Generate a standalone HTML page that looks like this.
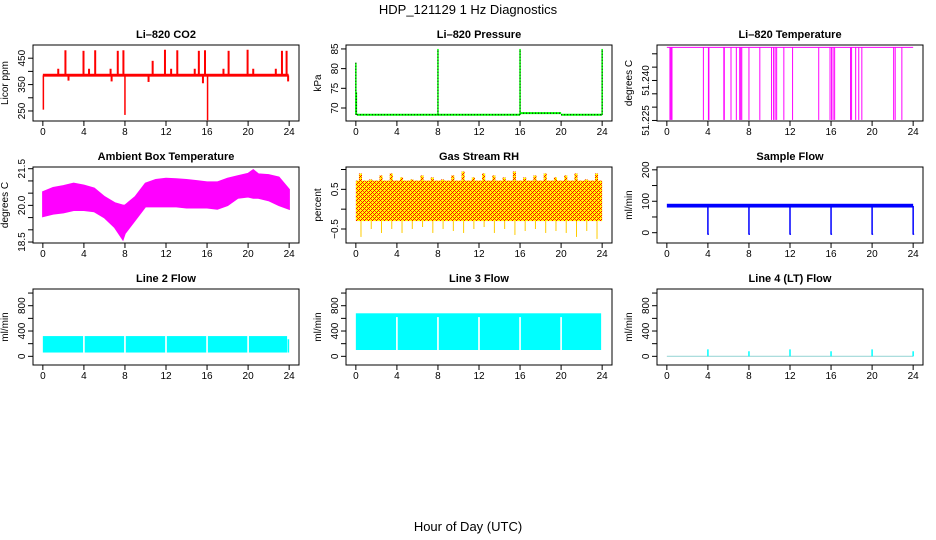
<!DOCTYPE html>
<html><head><meta charset="utf-8"><style>
body{margin:0;background:#fff}
svg{display:block}
text{font-family:"Liberation Sans",Arial,sans-serif;fill:#000}
.t{font-size:11px;font-weight:bold}
.tk{font-size:10px}
</style></head><body>
<svg id="c" width="936" height="540" viewBox="0 0 936 540">
<defs>
<pattern id="rh" width="4" height="4" patternUnits="userSpaceOnUse">
<rect width="4" height="4" fill="#ffff00"/>
<rect x="0" y="0" width="1" height="1" fill="#ff0000"/><rect x="2" y="2" width="1" height="1" fill="#ff0000"/>
<rect x="1" y="1" width="1" height="1" fill="#ff4000"/><rect x="3" y="3" width="1" height="1" fill="#ff4000"/>
<rect x="3" y="1" width="1" height="1" fill="#ff0000"/><rect x="1" y="3" width="1" height="1" fill="#ff0000"/>
</pattern>
</defs>
<text x="468" y="14" text-anchor="middle" style="font-size:13px">HDP_121129  1 Hz Diagnostics</text>
<text x="468" y="531" text-anchor="middle" style="font-size:13px">Hour of Day (UTC)</text>
</svg>
<script>
// ---- data ----
const hourTicks = [0,4,8,12,16,20,24];
const co2Base = [380, 391];
const co2SpikeHours = [2.2,3.96,5.1,7.3,7.85,11.9,13.1,15.2,15.8,18.1,19.95,23.3,23.75];
const co2SpikeVals = [480,478,480,478,480,482,480,478,480,478,482,478,478];
const co2MedHours = [1.5,4.5,6.6,10.7,12.5,14.8,17.6,20.5,22.7];
const co2MedVals = [410,410,410,440,410,410,410,410,410];
const co2DownHours = [0.05,8.0,16.05,2.5,6.7,10.3,15.6,23.9];
const co2DownVals = [255,235,215,365,362,360,355,362];
const presSegStart = [0.1,16,20];
const presSegEnd = [16,20,24];
const presSegVals = [68.3,68.7,68.3];
const presSpikeHours = [0,0.05,8.0,16.0,24.0];
const presSpikeVals = [81.5,74,85,85,85];
const tempHigh = 51.2524;
const tempDropHours = [0.3,0.4,0.5,3.56,4.05,4.1,5.55,5.6,6.25,6.77,7.1,7.2,7.3,8.0,9.06,10.2,10.4,10.55,10.7,11.4,12.25,14.8,15.9,16.05,16.2,16.35,17.9,18.0,18.4,18.7,19.0,22.1,22.25,22.9];
const tempLow = 51.2252;
const ambHours = [0,1,2,3,4,5,6,7,7.8,8,9,10,11,12,13,14,15,16,17,18,19,20,20.5,21,22,23,24];
const ambMax = [20.55,20.72,20.8,20.9,20.82,20.7,20.35,20.1,20.0,20.0,20.35,20.9,21.05,21.1,21.08,21.05,21.0,20.95,20.95,21.1,21.2,21.3,21.45,21.28,21.25,21.15,20.65];
const ambMin = [19.55,19.65,19.7,19.8,19.8,19.75,19.5,19.1,18.6,18.85,19.4,19.95,19.95,19.95,19.95,19.9,19.9,19.9,19.85,20.0,20.3,20.35,20.3,20.3,20.2,20.0,19.85];
const rhHours = [0,1,2,3,4,5,6,7,8,9,10,11,12,13,14,15,16,17,18,19,20,21,22,23,24];
const rhMax = [0.9,0.75,0.85,0.9,0.8,0.75,0.85,0.8,0.75,0.85,0.95,0.8,0.9,0.85,0.8,0.95,0.8,0.85,0.9,0.8,0.85,0.9,0.75,0.9,0.75];
const rhMin = [-0.7,-0.5,-0.6,-0.5,-0.6,-0.5,-0.45,-0.6,-0.5,-0.55,-0.6,-0.5,-0.45,-0.6,-0.5,-0.65,-0.55,-0.5,-0.6,-0.55,-0.6,-0.7,-0.55,-0.75,-0.6];
const flowHours = [4,8,12,16,20,24];
const flowBand = [80, 92];
const flowDip = -5;
const l2Band = [60, 320];
const l3Band = [100, 680];
const lineGapHours = [4,8,12,16,20];
const l4SpikeVals = [110,80,110,80,110,80];

// ---- layout ----
const svg = document.getElementById('c');
const NS='http://www.w3.org/2000/svg';
const colL=[33,346,657], rowT=[45,167,289], W=266, H=76;
function mk(tag,attrs,parent){const e=document.createElementNS(NS,tag);for(const k in attrs)e.setAttribute(k,attrs[k]);(parent||svg).appendChild(e);return e;}
function panel(c,r,title,ylab,ymin,ymax,ticks,labs,name){
  const L=colL[c],T=rowT[r];
  const g=mk('g',{});
  
  
  const xs=h=>L+W*(h+0.96)/25.92;
  const ys=v=>T+H*(ymax-v)/(ymax-ymin);
  const t=mk('text',{x:L+W/2,y:T-7,'text-anchor':'middle',class:'t'},g);t.textContent=title;
  
  
  const yl=mk('text',{transform:`translate(${L-25},${T+H/2}) rotate(-90)`,'text-anchor':'middle',class:'tk'},g);yl.textContent=ylab;
  
  
  const plot=mk('g',{},g);
  hourTicks.forEach(h=>{
    mk('line',{x1:xs(h),x2:xs(h),y1:T+H,y2:T+H+5,stroke:'#000'},g);
    const tx=mk('text',{x:xs(h),y:T+H+14,'text-anchor':'middle',class:'tk'},g);tx.textContent=h;
    
    
  });
  ticks.forEach(v=>{
    mk('line',{x1:L-5,x2:L,y1:ys(v),y2:ys(v),stroke:'#000'},g);
  });
  labs.forEach(o=>{
    const tx=mk('text',{transform:`translate(${L-8},${ys(o.v)}) rotate(-90)`,'text-anchor':'middle',class:'tk'},g);tx.textContent=o.s;
    
    
  });
  mk('line',{x1:L,x2:L,y1:ys(ticks[0]),y2:ys(ticks[ticks.length-1]),stroke:'#000'},g);
  const b=mk('rect',{x:L,y:T,width:W,height:H,fill:'none',stroke:'#000'},g);
  
  
  return {xs,ys,plot};
}
function band(p,h0,h1,lo,hi,fill,name){
  const r=mk('rect',{x:p.xs(h0),y:p.ys(hi),width:p.xs(h1)-p.xs(h0),height:p.ys(lo)-p.ys(hi),fill:fill},p.plot);
  
  
  return r;
}
function vline(p,h,v0,v1,col,w,name,dash){
  const l=mk('line',{x1:p.xs(h),x2:p.xs(h),y1:p.ys(v0),y2:p.ys(v1),stroke:col,'stroke-width':w},p.plot);
  if(dash)l.setAttribute('stroke-dasharray',dash);
  
  
}
function hline(p,h0,h1,v,col,w,name,dash){
  const l=mk('line',{x1:p.xs(h0),x2:p.xs(h1),y1:p.ys(v),y2:p.ys(v),stroke:col,'stroke-width':w},p.plot);
  if(dash)l.setAttribute('stroke-dasharray',dash);
  
  
}
const L=(vals,strs)=>vals.map((v,i)=>({v:v,s:strs[i]}));
const red='#ff0000', mag='#ff00ff', blue='#0000ff', cy='#00ffff', grn='#00ff00';

// CO2
let q=panel(0,0,'Li\u2013820 CO2','Licor ppm',212,500,[250,300,350,400,450],L([250,350,450],['250','350','450']),'co2');
band(q,0,23.95,co2Base[0],co2Base[1],red,'co2-baseline');
co2SpikeHours.forEach((h,i)=>vline(q,h,385,co2SpikeVals[i],red,2,'co2-spike'));
co2MedHours.forEach((h,i)=>vline(q,h,385,co2MedVals[i],red,2,'co2-spike'));
co2DownHours.forEach((h,i)=>vline(q,h,385,co2DownVals[i],red,i<3?1.5:2,'co2-dip'));

// Pressure
q=panel(1,0,'Li\u2013820 Pressure','kPa',66.7,86,[70,75,80,85],L([70,75,80,85],['70','75','80','85']),'pressure');
presSegStart.forEach((h,i)=>{
  hline(q,h,presSegEnd[i],presSegVals[i],grn,2,'pressure-baseline');
  hline(q,h,presSegEnd[i],presSegVals[i],'#000',1,'pressure-baseline-dots','1,2');
});
presSpikeHours.forEach((h,i)=>{
  vline(q,h,68.3,presSpikeVals[i],grn,1.5,'pressure-spike');
  vline(q,h,68.3,presSpikeVals[i],'#000',1,'pressure-spike-dots','1,2');
});

// Temperature
q=panel(2,0,'Li\u2013820 Temperature','degrees C',51.2248,51.2533,[51.225,51.23,51.235,51.24,51.245,51.25],L([51.225,51.24],['51.225','51.240']),'li820-temp');
hline(q,0,24,tempHigh,mag,1,'temp-line');
tempDropHours.forEach(h=>vline(q,h,tempHigh,tempLow,mag,1,'temp-drop'));

// Ambient
q=panel(0,1,'Ambient Box Temperature','degrees C',18.46,21.57,[18.5,19,19.5,20,20.5,21,21.5],L([18.5,20,21.5],['18.5','20.0','21.5']),'ambient-temp');
let d='';ambHours.forEach((h,i)=>{d+=(i?'L':'M')+q.xs(h)+','+q.ys(ambMax[i]);});
for(let i=ambHours.length-1;i>=0;i--)d+='L'+q.xs(ambHours[i])+','+q.ys(ambMin[i]);
let pl=mk('path',{d:d+'Z',fill:mag,stroke:mag,'stroke-width':1.5},q.plot);



// RH
q=panel(1,1,'Gas Stream RH','percent',-0.853,1.063,[-0.5,0,0.5,1],L([-0.5,0.5],['\u22120.5','0.5']),'gas-rh');
band(q,0,24,-0.3,0.72,'url(#rh)','rh-band');
rhHours.forEach((h,i)=>{
  if(h<24){band(q,h+0.3,h+0.6,0.7,rhMax[i],'url(#rh)','rh-spike');
  vline(q,h+0.5,-0.3,rhMin[i],'#ffcc00',1,'rh-dip');}
});

// Sample flow
q=panel(2,1,'Sample Flow','ml/min',-32.8,209,[0,50,100,150,200],L([0,100,200],['0','100','200']),'sample-flow');
band(q,0,24,flowBand[0],flowBand[1],blue,'sample-flow-band');
flowHours.forEach(h=>{vline(q,h,85,flowDip,blue,1.5,'sample-flow-dip');band(q,h-0.05,h+0.1,flowDip-2,flowDip+2,blue,'sample-flow-dip-end');});

// Line 2
const flowTicks=[0,200,400,600,800,1000], flowLab=L([0,400,800],['0','400','800']);
q=panel(0,2,'Line 2 Flow','ml/min',-137,1064,flowTicks,flowLab,'line2-flow');
band(q,0,23.8,l2Band[0],l2Band[1],cy,'line2-band');
band(q,23.85,24,l2Band[0],270,cy,'line2-band-end');
lineGapHours.forEach(h=>band(q,h-0.08,h+0.08,l2Band[0],l2Band[1]+5,'#fff','line2-gap'));

// Line 3
q=panel(1,2,'Line 3 Flow','ml/min',-137,1064,flowTicks,flowLab,'line3-flow');
band(q,0,23.9,l3Band[0],l3Band[1],cy,'line3-band');
lineGapHours.forEach(h=>band(q,h-0.08,h+0.08,l3Band[0],l3Band[1]-60,'#fff','line3-gap'));

// Line 4
q=panel(2,2,'Line 4 (LT) Flow','ml/min',-137,1064,flowTicks,flowLab,'line4-flow');
hline(q,0,24,0,'#9fd8d8',1.2,'line4-line');
flowHours.forEach((h,i)=>vline(q,h,0,l4SpikeVals[i],cy,1.5,'line4-spike'));
</script>
</body></html>
